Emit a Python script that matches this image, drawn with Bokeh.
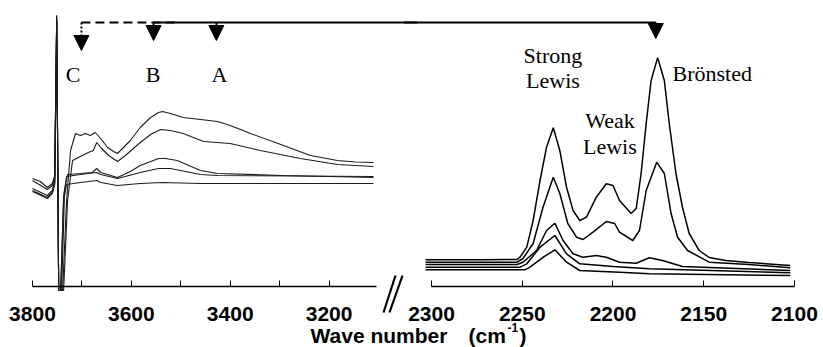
from bokeh.plotting import figure
from bokeh.models import Range1d, FixedTicker, Arrow, NormalHead, LinearAxis
from bokeh.core.properties import value
from bokeh.embed import file_html
from bokeh.resources import INLINE

# ---------------- data: OH region (left panel), wavenumber / absorbance ----------------
oh_wn_1 = [3800, 3784, 3770, 3760, 3755, 3751, 3747, 3739, 3731, 3723, 3713, 3703, 3693, 3683, 3673,
           3662, 3648, 3636, 3628, 3618, 3602, 3582, 3561, 3545, 3537, 3521, 3495, 3460, 3426, 3406,
           3379, 3359, 3292, 3238, 3183, 3147, 3110]
oh_abs_1 = [1.08, 1.05, 0.99, 1.03, 1.11, 2.71, -0.04, -0.04, 0.86, 1.36, 1.53, 1.51, 1.53, 1.51, 1.54,
            1.48, 1.39, 1.35, 1.33, 1.38, 1.46, 1.59, 1.69, 1.74, 1.75, 1.73, 1.69, 1.67, 1.65, 1.62,
            1.57, 1.53, 1.41, 1.31, 1.26, 1.245, 1.24]

oh_wn_2 = [3800, 3770, 3760, 3755, 3751, 3747, 3737, 3729, 3719, 3703, 3687, 3677, 3670, 3662, 3646,
           3628, 3612, 3582, 3561, 3541, 3521, 3495, 3454, 3400, 3339, 3258, 3183, 3110]
oh_abs_2 = [1.06, 0.97, 1.01, 1.09, 2.71, -0.04, -0.04, 0.86, 1.26, 1.30, 1.34, 1.36, 1.44, 1.39, 1.31,
            1.25, 1.31, 1.44, 1.52, 1.57, 1.56, 1.53, 1.45, 1.43, 1.36, 1.28, 1.22, 1.20]

oh_wn_3 = [3800, 3770, 3760, 3755, 3751, 3747, 3741, 3735, 3729, 3703, 3679, 3670, 3662, 3628, 3602,
           3582, 3545, 3531, 3507, 3460, 3426, 3292, 3110]
oh_abs_3 = [0.98, 0.91, 0.96, 1.06, 2.68, -0.04, -0.04, 0.96, 1.12, 1.13, 1.14, 1.18, 1.14, 1.09, 1.15,
            1.21, 1.28, 1.28, 1.26, 1.16, 1.13, 1.11, 1.09]

oh_wn_4 = [3800, 3770, 3760, 3755, 3751, 3747, 3743, 3737, 3731, 3703, 3670, 3662, 3628, 3582, 3545,
           3521, 3460, 3426, 3110]
oh_abs_4 = [0.96, 0.89, 0.94, 1.04, 2.66, -0.04, -0.04, 0.91, 1.10, 1.12, 1.14, 1.12, 1.08, 1.14, 1.18,
            1.18, 1.12, 1.11, 1.10]

oh_wn_5 = [3800, 3770, 3760, 3755, 3751, 3747, 3743, 3737, 3731, 3703, 3670, 3662, 3628, 3582, 3537,
           3460, 3110]
oh_abs_5 = [0.95, 0.88, 0.93, 1.02, 2.64, -0.04, -0.04, 0.86, 1.02, 1.04, 1.06, 1.04, 1.01, 1.03, 1.04,
            1.03, 1.03]

# ---------------- data: CO region (right panel) ----------------
co_wn_1 = [2303.3, 2273, 2252.8, 2251.2, 2247.5, 2244, 2240.2, 2236.6, 2232.9, 2229.3, 2225.6, 2222,
           2218.3, 2214.6, 2209.2, 2203.7, 2200, 2196.4, 2190, 2187.2, 2184.5, 2181.7, 2179, 2175.4,
           2171.7, 2169, 2165.3, 2161.7, 2158, 2152.5, 2147, 2137.9, 2125.1, 2102.3]
co_abs_1 = [0.267, 0.267, 0.27, 0.293, 0.393, 0.66, 1.06, 1.393, 1.587, 1.36, 0.993, 0.76,
            0.66, 0.693, 0.893, 1.027, 1.01, 0.86, 0.73, 0.78, 1.13, 1.63, 2.06, 2.287,
            2.06, 1.63, 1.13, 0.79, 0.53, 0.36, 0.29, 0.26, 0.24, 0.21]

co_wn_2 = [2303.3, 2252.8, 2249.6, 2244, 2238.6, 2232.9, 2229.3, 2224.9, 2220.1, 2216.5, 2211, 2203.7,
           2199.1, 2196.4, 2189.1, 2185.4, 2181.7, 2175.9, 2171.7, 2168, 2164.4, 2158.9, 2147, 2125.1,
           2102.3]
co_abs_2 = [0.243, 0.243, 0.28, 0.43, 0.79, 1.093, 0.93, 0.63, 0.493, 0.47, 0.543, 0.65,
            0.63, 0.543, 0.46, 0.56, 0.96, 1.243, 1.13, 0.73, 0.493, 0.36, 0.243, 0.22,
            0.187]

co_wn_3 = [2303.3, 2252.8, 2249.6, 2242.1, 2236.6, 2232, 2227.5, 2222, 2216.5, 2209.2, 2203.7, 2196.4,
           2187.2, 2180, 2172.7, 2161.7, 2102.3]
co_abs_3 = [0.22, 0.22, 0.243, 0.36, 0.56, 0.633, 0.46, 0.327, 0.293, 0.31, 0.293, 0.243,
            0.233, 0.287, 0.26, 0.2, 0.16]

co_wn_4 = [2303.3, 2251.2, 2247.5, 2240.2, 2232, 2225.6, 2218.3, 2200, 2180, 2102.3]
co_abs_4 = [0.193, 0.193, 0.227, 0.393, 0.51, 0.327, 0.227, 0.2, 0.177, 0.137]

co_wn_5 = [2303.3, 2248.5, 2245.7, 2238.4, 2232, 2225.6, 2218.3, 2196.4, 2180, 2102.3]
co_abs_5 = [0.167, 0.167, 0.193, 0.293, 0.367, 0.243, 0.16, 0.143, 0.127, 0.11]

# ---------------- band markers and labels ----------------
oh_band_names = ["C", "B", "A"]
oh_band_arrow_wn = [3701, 3555, 3428]
oh_band_label_wn = [3718, 3556, 3422]
oh_band_label_abs = [2.12, 2.12, 2.12]
co_band_arrow_wn = 2176.4

co_label_text = ["Strong", "Lewis", "Weak", "Lewis"]
co_label_wn = [2233.1, 2233.1, 2201.7, 2201.7]
co_label_abs = [2.31, 2.06, 1.66, 1.40]
bronsted_text = "Brönsted"
bronsted_wn = 2167.2
bronsted_abs = 2.13

oh_ticks = [3800, 3600, 3400, 3200]
oh_minor_ticks = [3700, 3500, 3300]
co_ticks = [2300, 2250, 2200, 2150, 2100]

ARROW_Y = 2.64

SERIF = value("Liberation Serif")
SANS = value("Liberation Sans")

# ---------------- figure: one canvas, two wavenumber scales (broken axis) ----------------
p = figure(width=823, height=347,
           x_range=Range1d(2537.5, 2084.0),          # CO region scale
           y_range=Range1d(-0.61, 2.78),
           x_axis_location=None, y_axis_location=None,
           min_border_left=0, min_border_right=0, min_border_top=8, min_border_bottom=0,
           output_backend="svg", toolbar_location=None)
p.extra_x_ranges = {"oh": Range1d(3864.7, 2199.8),    # OH region scale
                    "page": Range1d(0, 823)}
p.extra_y_ranges = {"page_y": Range1d(347, 8)}
p.outline_line_color = None
p.xgrid.visible = False
p.ygrid.visible = False
p.background_fill_color = "white"
p.border_fill_color = "white"


def make_axis(**kw):
    ax = LinearAxis(fixed_location=0, **kw)
    ax.axis_line_width = 1.5
    ax.axis_line_color = "black"
    ax.major_tick_in = 6
    ax.major_tick_out = 0
    ax.minor_tick_in = 6
    ax.minor_tick_out = 0
    ax.major_tick_line_color = "black"
    ax.minor_tick_line_color = "black"
    ax.major_label_text_font = "Liberation Sans"
    ax.major_label_text_font_style = "bold"
    ax.major_label_text_font_size = "21px"
    ax.major_label_text_color = "black"
    ax.major_label_standoff = 20
    return ax


p.add_layout(make_axis(x_range_name="oh",
                       ticker=FixedTicker(ticks=oh_ticks, minor_ticks=oh_minor_ticks),
                       bounds=(3104, 3800)), "below")
p.add_layout(make_axis(ticker=FixedTicker(ticks=co_ticks), bounds=(2100, 2300)), "below")

# ---------------- spectra ----------------
for wn, ab in [(oh_wn_1, oh_abs_1), (oh_wn_2, oh_abs_2), (oh_wn_3, oh_abs_3),
               (oh_wn_4, oh_abs_4), (oh_wn_5, oh_abs_5)]:
    p.line(wn, ab, line_color="#1c1c1c", line_width=1.1, x_range_name="oh")

for wn, ab in [(co_wn_1, co_abs_1), (co_wn_2, co_abs_2), (co_wn_3, co_abs_3),
               (co_wn_4, co_abs_4), (co_wn_5, co_abs_5)]:
    p.line(wn, ab, line_color="black", line_width=1.5)

# ---------------- band labels ----------------
p.text(x=oh_band_label_wn, y=oh_band_label_abs, text=oh_band_names, text_font=SERIF,
       text_font_size="22px", text_align="center", text_baseline="alphabetic",
       text_color="black", x_range_name="oh")
p.text(x=co_label_wn, y=co_label_abs, text=co_label_text, text_font=SERIF,
       text_font_size="22px", text_align="center", text_baseline="alphabetic",
       text_color="black")
p.text(x=[bronsted_wn], y=[bronsted_abs], text=[bronsted_text], text_font=SERIF,
       text_font_size="22px", text_align="left", text_baseline="alphabetic",
       text_color="black")

# ---------------- arrows ----------------
# dashed lead line from C, solid line from B running over to the Bronsted band
p.segment(x0=[oh_band_arrow_wn[0]], y0=[ARROW_Y], x1=[3510], y1=[ARROW_Y],
          line_color="black", line_width=2, line_dash="9 5", x_range_name="oh")
p.segment(x0=[oh_band_arrow_wn[1]], y0=[ARROW_Y], x1=[3020], y1=[ARROW_Y],
          line_color="black", line_width=2, x_range_name="oh")
p.segment(x0=[2315], y0=[ARROW_Y], x1=[co_band_arrow_wn], y1=[ARROW_Y],
          line_color="black", line_width=2)

p.add_layout(Arrow(end=NormalHead(size=15, fill_color="black", line_color="black"),
                   x_start=oh_band_arrow_wn[0], y_start=ARROW_Y,
                   x_end=oh_band_arrow_wn[0], y_end=2.36,
                   line_color="black", line_width=2, line_dash="2 2", x_range_name="oh"))
for wn in oh_band_arrow_wn[1:]:
    p.add_layout(Arrow(end=NormalHead(size=15, fill_color="black", line_color="black"),
                       x_start=wn, y_start=ARROW_Y, x_end=wn, y_end=2.46,
                       line_color="black", line_width=2, x_range_name="oh"))
p.add_layout(Arrow(end=NormalHead(size=15, fill_color="black", line_color="black"),
                   x_start=co_band_arrow_wn, y_start=ARROW_Y,
                   x_end=co_band_arrow_wn, y_end=2.48,
                   line_color="black", line_width=2))

# ---------------- axis break marks and shared axis title ----------------
p.segment(x0=[383, 389], y0=[312, 312], x1=[395, 402], y1=[275, 275],
          line_color="black", line_width=2.2, x_range_name="page", y_range_name="page_y")

p.text(x=[310, 468, 519], y=[335, 335, 335], text=["Wave number", "(cm", ")"],
       text_font=SANS, text_font_style="bold", text_font_size="21px",
       text_align="left", text_baseline="alphabetic", text_color="black",
       x_range_name="page", y_range_name="page_y")
p.text(x=[507], y=[326.5], text=["-1"], text_font=SANS, text_font_style="bold",
       text_font_size="12px", text_align="left", text_baseline="alphabetic",
       text_color="black", x_range_name="page", y_range_name="page_y")

open("out.html", "w").write(file_html(p, INLINE))
